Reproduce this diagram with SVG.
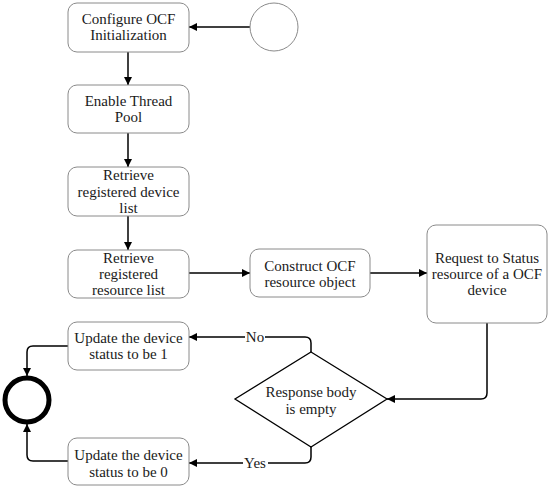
<svg xmlns="http://www.w3.org/2000/svg" width="550" height="490" viewBox="0 0 550 490">
<defs>
<style>
.box{fill:#fff;stroke:#8a8a8a;stroke-width:1}
.t{font-family:"Liberation Serif","DejaVu Serif",serif;font-size:15px;fill:#1a1a1a;text-anchor:middle}
.c{fill:none;stroke:#000;stroke-width:1.5}
.lbl{fill:#fff}
</style>
<marker id="ah" viewBox="0 0 10 10" refX="10" refY="5" markerWidth="8" markerHeight="8" markerUnits="userSpaceOnUse" orient="auto">
<path d="M0,0 L10,5 L0,10 z" fill="#000"/>
</marker>
</defs>
<rect width="550" height="490" fill="#fff"/>
<g id="connectors">
<path class="c" d="M250,27 H189" marker-end="url(#ah)"/>
<path class="c" d="M128,52 V85" marker-end="url(#ah)"/>
<path class="c" d="M128,133 V167" marker-end="url(#ah)"/>
<path class="c" d="M128,216 V250" marker-end="url(#ah)"/>
<path class="c" d="M189,273 H250" marker-end="url(#ah)"/>
<path class="c" d="M370,273 H427" marker-end="url(#ah)"/>
<path class="c" d="M487,323 V393 Q487,399 481,399 H387" marker-end="url(#ah)"/>
<path class="c" d="M311,352 V343 Q311,337 305,337 H189" marker-end="url(#ah)"/>
<path class="c" d="M311,447 V457 Q311,463 305,463 H189" marker-end="url(#ah)"/>
<path class="c" d="M68,346 H33 Q27,346 27,352 V376" marker-end="url(#ah)"/>
<path class="c" d="M68,461 H33 Q27,461 27,455 V424" marker-end="url(#ah)"/>
<rect class="lbl" x="245" y="330" width="20" height="14"/>
<text class="t" x="255" y="342">No</text>
<rect class="lbl" x="243" y="456" width="25" height="14"/>
<text class="t" x="255" y="468">Yes</text>
</g>
<g id="start">
<circle cx="274" cy="27" r="24" fill="#fff" stroke="#8a8a8a" stroke-width="1"/>
</g>
<g id="configure">
<rect class="box" x="68" y="3" width="121" height="49" rx="9"/>
<text class="t" x="128.5" y="24">Configure OCF</text>
<text class="t" x="128.5" y="40">Initialization</text>
</g>
<g id="threadpool">
<rect class="box" x="68" y="85" width="121" height="48" rx="9"/>
<text class="t" x="128.5" y="106">Enable Thread</text>
<text class="t" x="128.5" y="122">Pool</text>
</g>
<g id="devicelist">
<rect class="box" x="68" y="167" width="121" height="49" rx="9"/>
<text class="t" x="128.5" y="180">Retrieve</text>
<text class="t" x="128.5" y="197">registered device</text>
<text class="t" x="128.5" y="213">list</text>
</g>
<g id="resourcelist">
<rect class="box" x="68" y="250" width="121" height="48" rx="9"/>
<text class="t" x="128.5" y="263">Retrieve</text>
<text class="t" x="128.5" y="279">registered</text>
<text class="t" x="128.5" y="295">resource list</text>
</g>
<g id="construct">
<rect class="box" x="250" y="249" width="120" height="48" rx="9"/>
<text class="t" x="310" y="271">Construct OCF</text>
<text class="t" x="310" y="287">resource object</text>
</g>
<g id="request">
<rect class="box" x="427" y="225" width="120" height="98" rx="9"/>
<text class="t" x="487" y="263">Request to Status</text>
<text class="t" x="487" y="279">resource of a OCF</text>
<text class="t" x="487" y="295">device</text>
</g>
<g id="decision">
<polygon points="311,352 387,399 311,447 235,399" fill="#fff" stroke="#000" stroke-width="1.3"/>
<text class="t" x="311" y="397">Response body</text>
<text class="t" x="311" y="414">is empty</text>
</g>
<g id="update1">
<rect class="box" x="68" y="322" width="121" height="48" rx="9"/>
<text class="t" x="128.5" y="343">Update the device</text>
<text class="t" x="128.5" y="359">status to be 1</text>
</g>
<g id="update0">
<rect class="box" x="68" y="438" width="121" height="47" rx="9"/>
<text class="t" x="128.5" y="460">Update the device</text>
<text class="t" x="128.5" y="477">status to be 0</text>
</g>
<g id="end">
<circle cx="27" cy="400" r="22" fill="#fff" stroke="#000" stroke-width="5"/>
</g>
</svg>
